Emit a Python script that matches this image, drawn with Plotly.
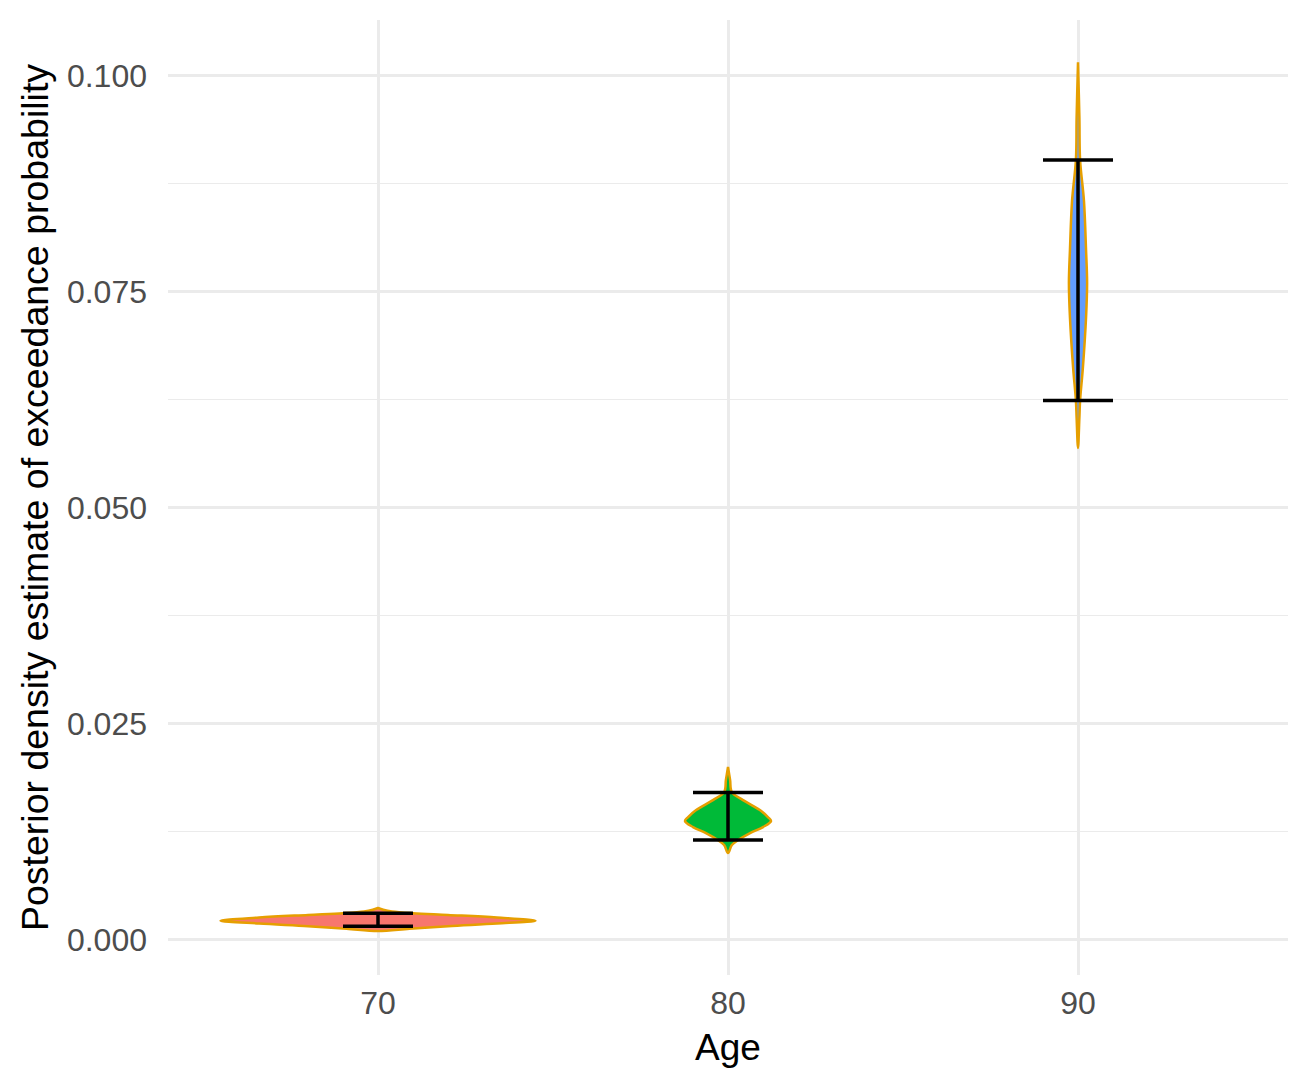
import plotly.graph_objects as go

ages = [70, 80, 90]
fill_colors = ["#F8766D", "#00BA38", "#619CFF"]

# violin density profiles: y values and half-widths (x units)
v70_y = [0.00104, 0.0013, 0.0016, 0.0019, 0.00223, 0.0026, 0.0029, 0.0031, 0.0033, 0.0035, 0.0037]
v70_w = [0.0, 0.9, 2.0, 3.4, 4.5, 3.4, 2.0, 1.0, 0.4, 0.15, 0.0]

v80_y = [0.01006, 0.01098, 0.01156, 0.01237, 0.01306, 0.01376, 0.01422, 0.01503, 0.01618, 0.01711, 0.01850, 0.02000]
v80_w = [0.0, 0.11, 0.29, 0.63, 1.0, 1.23, 1.14, 0.91, 0.43, 0.11, 0.06, 0.0]

v90_y = [0.0569, 0.0604, 0.0624, 0.0662, 0.0720, 0.0760, 0.0798, 0.0855, 0.0902, 0.0951, 0.1015]
v90_w = [0.0, 0.04, 0.06, 0.14, 0.23, 0.26, 0.23, 0.17, 0.06, 0.04, 0.0]

# credible interval bounds
ci_lower = [0.0016, 0.01156, 0.0624]
ci_upper = [0.0031, 0.01705, 0.0902]
whisker_half = 1.0

profiles = [(v70_y, v70_w), (v80_y, v80_w), (v90_y, v90_w)]

fig = go.Figure()
for age, col, (vy, vw) in zip(ages, fill_colors, profiles):
    xs = [age + w for w in vw] + [age - w for w in reversed(vw)]
    ys = list(vy) + list(reversed(vy))
    fig.add_trace(go.Scatter(x=xs, y=ys, mode="lines", fill="toself",
                             fillcolor=col, line=dict(color="#E69F00", width=2.5),
                             line_shape="spline", hoverinfo="skip", showlegend=False))

ex, ey = [], []
for age, lo, hi in zip(ages, ci_lower, ci_upper):
    ex += [age, age, None, age - whisker_half, age + whisker_half, None,
           age - whisker_half, age + whisker_half, None]
    ey += [lo, hi, None, lo, lo, None, hi, hi, None]
fig.add_trace(go.Scatter(x=ex, y=ey, mode="lines", line=dict(color="black", width=3.5),
                         showlegend=False, hoverinfo="skip"))

fig.update_layout(
    width=1308, height=1090,
    margin=dict(l=160, r=28, t=12, b=123),
    plot_bgcolor="white", paper_bgcolor="white",
    font=dict(family="Liberation Sans, Arial, sans-serif"),
)
fig.update_xaxes(
    range=[64, 96], tickvals=ages, ticktext=[str(a) for a in ages],
    showgrid=True, gridcolor="#EBEBEB", gridwidth=2.5, zeroline=False,
    showline=False, ticks="", ticklabelstandoff=6,
    tickfont=dict(size=32, color="#4D4D4D"),
    title=dict(text="Age", font=dict(size=37, color="black"), standoff=14),
)
fig.update_yaxes(
    range=[-0.00405, 0.1064], tickvals=[0, 0.025, 0.05, 0.075, 0.1],
    ticktext=["0.000", "0.025", "0.050", "0.075", "0.100"],
    showgrid=True, gridcolor="#EBEBEB", gridwidth=2.5, zeroline=False,
    showline=False, ticks="", ticklabelstandoff=20,
    minor=dict(tickvals=[0.0125, 0.0375, 0.0625, 0.0875], showgrid=True,
               gridcolor="#EBEBEB", gridwidth=1.2),
    tickfont=dict(size=32, color="#4D4D4D"),
    title=dict(text="Posterior density estimate of exceedance probability",
               font=dict(size=37.5, color="black"), standoff=6),
)

fig.write_html("out.html")
